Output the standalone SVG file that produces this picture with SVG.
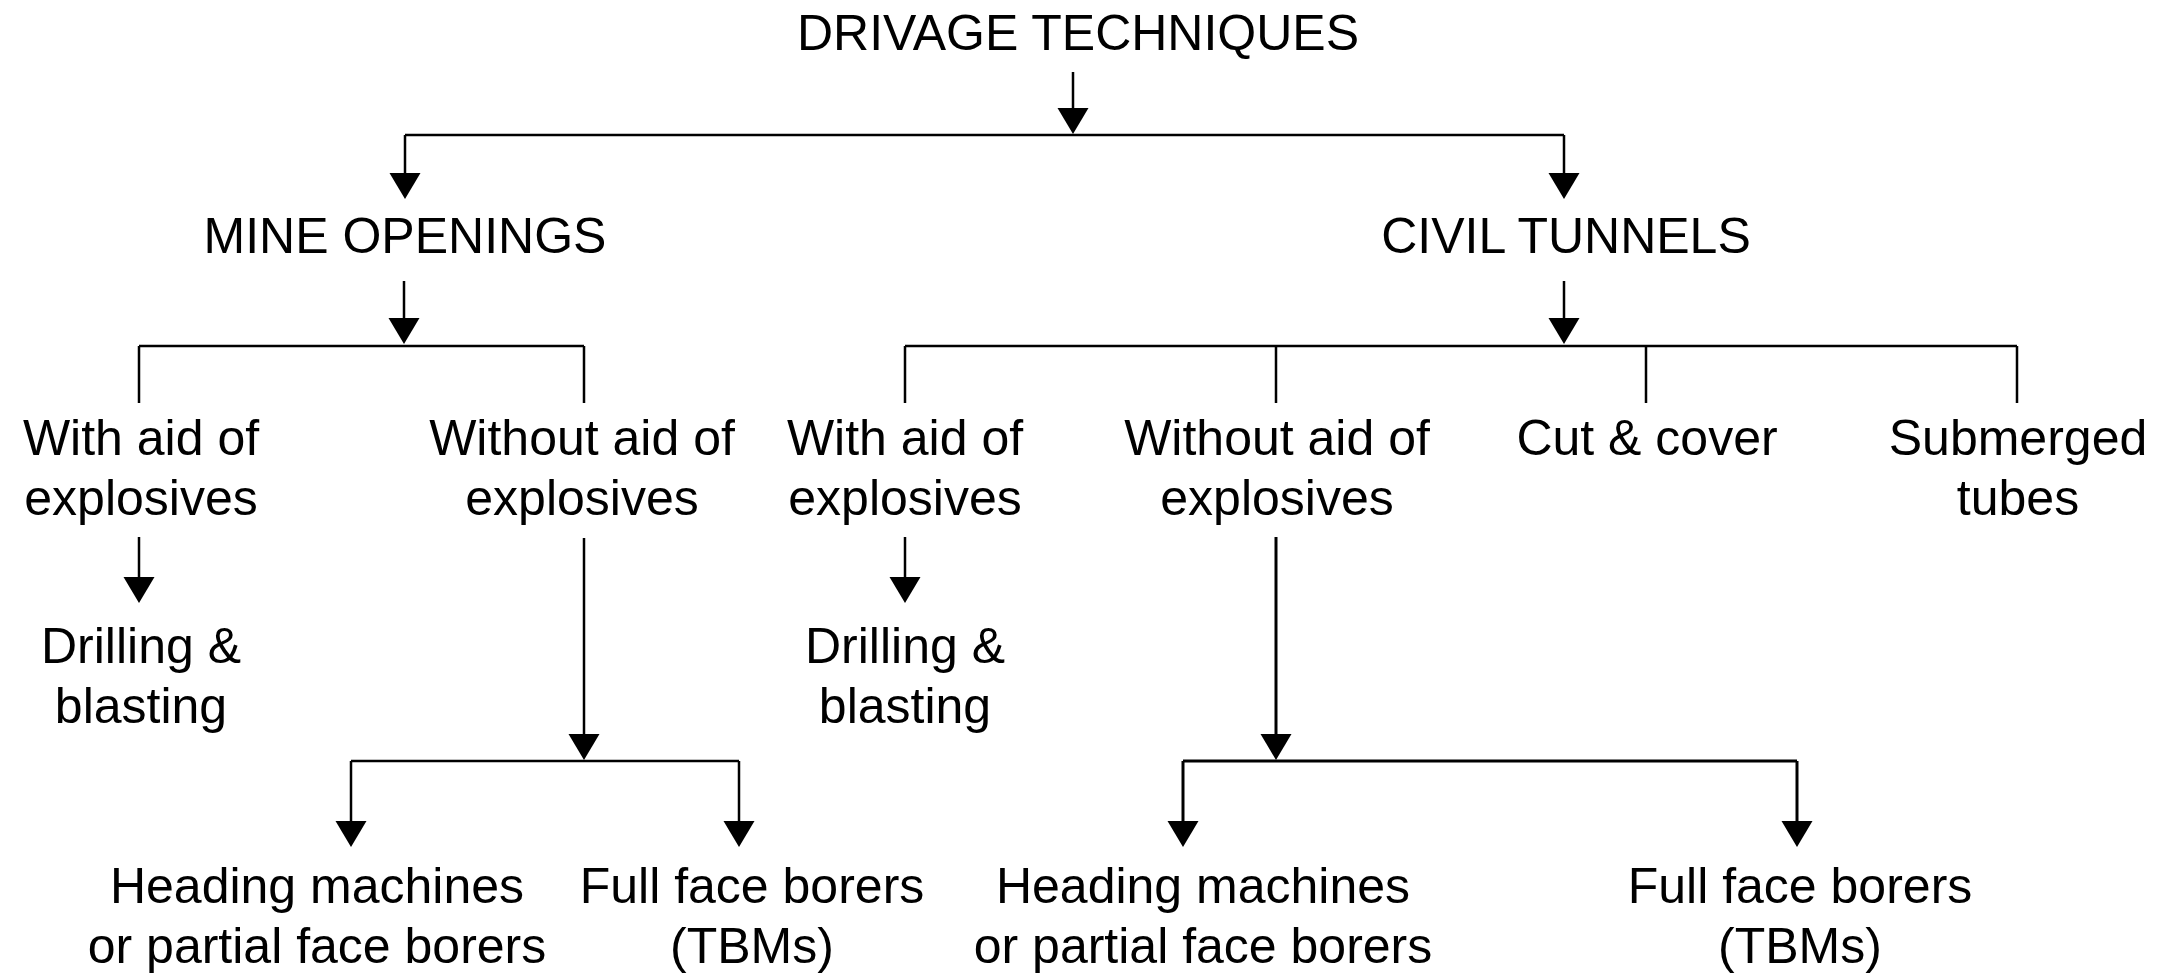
<svg xmlns="http://www.w3.org/2000/svg" width="2167" height="977" viewBox="0 0 2167 977">
<style>
text{font-family:"Liberation Sans",Arial,sans-serif;font-size:50px;fill:#000;text-anchor:middle}
.c{fill:none;stroke:#000;stroke-width:2.5}
.t{stroke-width:3}
.a{marker-end:url(#ah)}
</style>
<defs>
<marker id="ah" markerUnits="userSpaceOnUse" markerWidth="28" markerHeight="32" refX="22" refY="15.5" orient="auto" overflow="visible">
<path d="M0,0 L26,15.5 L0,31 z" fill="#000"/>
</marker>
</defs>
<rect width="2167" height="977" fill="#fff"/>
<g id="connectors">
<path class="c a" d="M1073,72 V130"/>
<path class="c" d="M405,135 H1564"/>
<path class="c a" d="M405,135 V195"/>
<path class="c a" d="M1564,135 V195"/>
<path class="c a" d="M404,281 V340"/>
<path class="c" d="M139,346 H584 M139,346 V403 M584,346 V403"/>
<path class="c a" d="M1564,281 V340"/>
<path class="c" d="M905,346 H2017 M905,346 V403 M1276,346 V403 M1646,346 V403 M2017,346 V403"/>
<path class="c a" d="M139,537 V599"/>
<path class="c a" d="M905,537 V599"/>
<path class="c a" d="M584,538 V756"/>
<path class="c" d="M351,761 H739"/>
<path class="c a" d="M351,761 V843"/>
<path class="c a" d="M739,761 V843"/>
<path class="c t a" d="M1276,537 V756"/>
<path class="c t" d="M1183,761 H1797"/>
<path class="c t a" d="M1183,761 V843"/>
<path class="c t a" d="M1797,761 V843"/>
</g>
<g id="root"><text x="1078" y="50">DRIVAGE TECHNIQUES</text></g>
<g id="mine"><text x="405" y="253">MINE OPENINGS</text></g>
<g id="civil"><text x="1566" y="253">CIVIL TUNNELS</text></g>
<g id="mine-with"><text x="141" y="455">With aid of</text><text x="141" y="515">explosives</text></g>
<g id="mine-without"><text x="582" y="455">Without aid of</text><text x="582" y="515">explosives</text></g>
<g id="civil-with"><text x="905" y="455">With aid of</text><text x="905" y="515">explosives</text></g>
<g id="civil-without"><text x="1277" y="455">Without aid of</text><text x="1277" y="515">explosives</text></g>
<g id="cut-cover"><text x="1647" y="455">Cut &amp; cover</text></g>
<g id="submerged"><text x="2018" y="455">Submerged</text><text x="2018" y="515">tubes</text></g>
<g id="mine-drill"><text x="141" y="663">Drilling &amp;</text><text x="141" y="723">blasting</text></g>
<g id="civil-drill"><text x="905" y="663">Drilling &amp;</text><text x="905" y="723">blasting</text></g>
<g id="mine-heading"><text x="317" y="903">Heading machines</text><text x="317" y="963">or partial face borers</text></g>
<g id="mine-full"><text x="752" y="903">Full face borers</text><text x="752" y="963">(TBMs)</text></g>
<g id="civil-heading"><text x="1203" y="903">Heading machines</text><text x="1203" y="963">or partial face borers</text></g>
<g id="civil-full"><text x="1800" y="903">Full face borers</text><text x="1800" y="963">(TBMs)</text></g>
</svg>
